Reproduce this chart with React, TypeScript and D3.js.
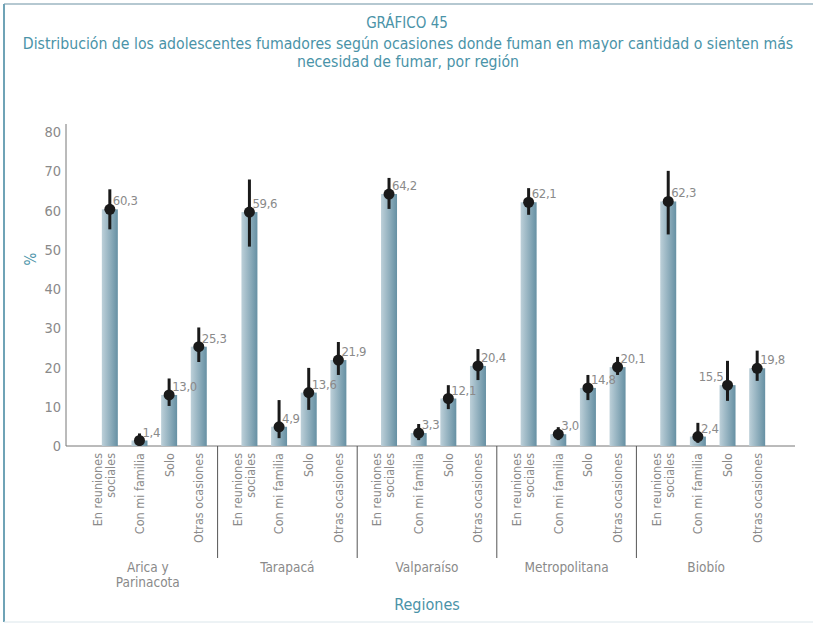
import React from "react";
import * as d3 from "d3";

const regions = ["Arica y|Parinacota", "Tarapacá", "Valparaíso", "Metropolitana", "Biobío"];
const categories = ["En reuniones|sociales", "Con mi familia", "Solo", "Otras ocasiones"];

// percentages per category, one value per region
const reuniones = [60.3, 59.6, 64.2, 62.1, 62.3];
const familia = [1.4, 4.9, 3.3, 3.0, 2.4];
const solo = [13.0, 13.6, 12.1, 14.8, 15.5];
const otras = [25.3, 21.9, 20.4, 20.1, 19.8];

// confidence intervals (lower / upper)
const reunionesLo = [55.2, 50.8, 60.4, 58.9, 53.9];
const reunionesHi = [65.4, 67.9, 68.3, 65.7, 70.1];
const familiaLo = [0.1, 2.0, 1.5, 1.5, 0.8];
const familiaHi = [3.2, 11.7, 5.6, 4.8, 5.9];
const soloLo = [10.2, 9.2, 9.4, 11.7, 11.5];
const soloHi = [17.2, 19.9, 15.5, 18.1, 21.7];
const otrasLo = [21.4, 18.1, 16.8, 18.1, 16.6];
const otrasHi = [30.2, 26.5, 24.7, 22.7, 24.3];

const yTicks = [0, 10, 20, 30, 40, 50, 60, 70, 80];

const series = [
  { values: reuniones, lo: reunionesLo, hi: reunionesHi },
  { values: familia, lo: familiaLo, hi: familiaHi },
  { values: solo, lo: soloLo, hi: soloHi },
  { values: otras, lo: otrasLo, hi: otrasHi },
];

const W = 813;
const H = 623;
const FONT = "'Liberation Sans Narrow', 'DejaVu Sans Condensed', 'Liberation Sans', sans-serif";
const TEAL = "#4a93a8";
const GRAY = "#8a8a8a";

const App: React.FC = () => {
  const margin = { left: 66, right: 795, top: 132, bottom: 446 };

  const y = d3.scaleLinear().domain([0, 80]).range([margin.bottom, margin.top]);
  const x0 = d3.scaleBand<string>().domain(regions).range([78, 776]);
  const x1 = d3
    .scaleBand<string>()
    .domain(categories)
    .range([17, x0.bandwidth() - 4]);
  const barW = 16;

  const fmt = (v: number) => v.toFixed(1).replace(".", ",");

  const separators = regions.slice(1).map((r) => x0(r)!);

  // flatten to one list of marks
  const marks = regions.flatMap((r, ri) =>
    categories.map((c, ci) => ({
      region: r,
      cat: c,
      cx: x0(r)! + x1(c)! + x1.bandwidth() / 2,
      v: series[ci].values[ri],
      lo: series[ci].lo[ri],
      hi: series[ci].hi[ri],
    }))
  );

  return (
    <svg
      width={W}
      height={H}
      style={{ position: "absolute", left: 0, top: 0, background: "#fff" }}
      fontFamily={FONT}
    >
      <defs>
        <linearGradient id="barGrad" x1="0" x2="1" y1="0" y2="0">
          <stop offset="0%" stopColor="#bdd0d9" />
          <stop offset="100%" stopColor="#6690a3" />
        </linearGradient>
      </defs>

      {/* frame */}
      <line x1={4} x2={W} y1={4} y2={4} stroke="#b5c8d1" strokeWidth={2} />
      <line x1={4} x2={4} y1={4} y2={H - 1} stroke="#6fa3b6" strokeWidth={2} />
      <line x1={4} x2={W} y1={H - 1} y2={H - 1} stroke="#dbe6eb" strokeWidth={1} />

      {/* titles */}
      <text x={407} y={28} textAnchor="middle" fill={TEAL} fontSize={15}>
        GRÁFICO 45
      </text>
      <text x={408} y={49} textAnchor="middle" fill={TEAL} fontSize={15.7}>
        Distribución de los adolescentes fumadores según ocasiones donde fuman en mayor cantidad o sienten más
      </text>
      <text x={408} y={67} textAnchor="middle" fill={TEAL} fontSize={15.7}>
        necesidad de fumar, por región
      </text>

      {/* y axis */}
      <line x1={margin.left} x2={margin.left} y1={margin.top - 8} y2={margin.bottom} stroke="#777" />
      {yTicks.map((t) => (
        <text key={t} x={61} y={y(t)} dy="0.35em" textAnchor="end" fill={GRAY} fontSize={14.5}>
          {t}
        </text>
      ))}
      <text
        transform={`translate(31,${(margin.top + margin.bottom) / 2 - 30}) rotate(-90)`}
        textAnchor="middle"
        dy="0.35em"
        fill={TEAL}
        fontSize={15}
      >
        %
      </text>

      {/* x axis */}
      <line x1={margin.left} x2={margin.right} y1={margin.bottom} y2={margin.bottom} stroke="#777" />
      {separators.map((sx, i) => (
        <line key={i} x1={sx} x2={sx} y1={margin.bottom} y2={558} stroke="#555" />
      ))}

      {/* bars and error bars */}
      {marks.map((m, i) => (
        <g key={i}>
          <rect x={m.cx - barW / 2} y={y(m.v)} width={barW} height={y(0) - y(m.v)} fill="url(#barGrad)" />
          <line x1={m.cx} x2={m.cx} y1={y(m.hi)} y2={y(m.lo)} stroke="#1a1a1a" strokeWidth={3} />
          <circle cx={m.cx} cy={y(m.v)} r={5.5} fill="#1a1a1a" />
        </g>
      ))}

      {/* value labels */}
      {marks.map((m, i) => {
        const left = m.region === "Biobío" && m.cat === "Solo";
        return (
          <text
            key={i}
            x={left ? m.cx - 4 : m.cx + 3}
            y={y(m.v) - 4}
            textAnchor={left ? "end" : "start"}
            fill={GRAY}
            fontSize={13}
            letterSpacing={-0.3}
          >
            {fmt(m.v)}
          </text>
        );
      })}

      {/* category labels */}
      {marks.map((m, i) => {
        const lines = m.cat.split("|");
        return lines.map((ln, li) => (
          <text
            key={`${i}-${li}`}
            transform={`translate(${lines.length > 1 ? m.cx - 12 + li * 13 : m.cx},453) rotate(-90)`}
            textAnchor="end"
            dy="0.35em"
            fill={GRAY}
            fontSize={12.5}
          >
            {ln}
          </text>
        ));
      })}

      {/* region labels */}
      {regions.map((r) =>
        r.split("|").map((ln, li) => (
          <text
            key={`${r}-${li}`}
            x={x0(r)! + x0.bandwidth() / 2}
            y={572 + li * 15}
            textAnchor="middle"
            fill={GRAY}
            fontSize={13.5}
          >
            {ln}
          </text>
        ))
      )}

      <text x={427} y={610} textAnchor="middle" fill={TEAL} fontSize={16}>
        Regiones
      </text>
    </svg>
  );
};

export default App;
